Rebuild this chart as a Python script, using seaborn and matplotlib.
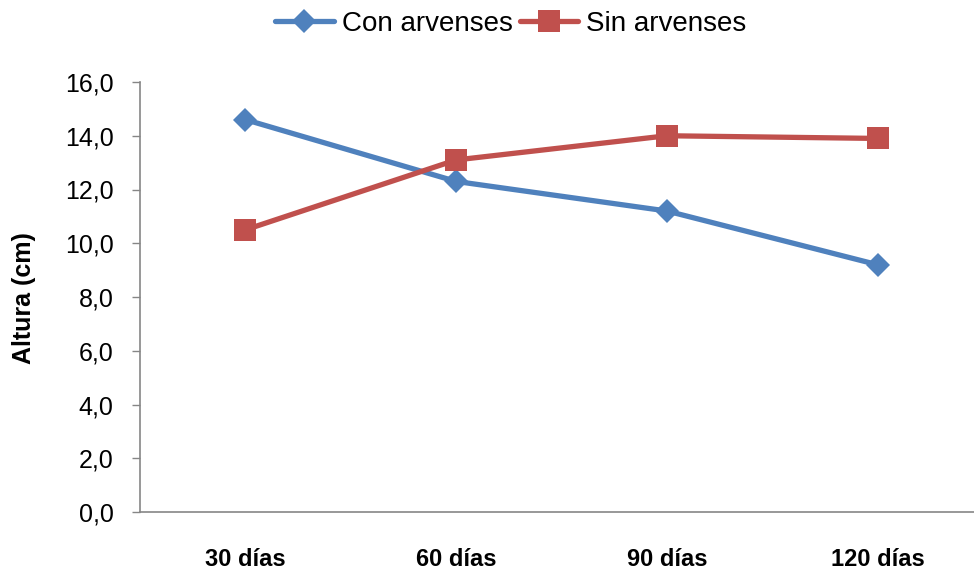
import matplotlib
matplotlib.use("Agg")
import matplotlib.pyplot as plt
import seaborn as sns
import pandas as pd

categorias = ["30 días", "60 días", "90 días", "120 días"]
con_arvenses = [14.6, 12.3, 11.2, 9.2]
sin_arvenses = [10.5, 13.1, 14.0, 13.9]
series = ["Con arvenses", "Sin arvenses"]
y_ticks = [0, 2, 4, 6, 8, 10, 12, 14, 16]

df = pd.DataFrame({
    "Tiempo": categorias * 2,
    "x": list(range(len(categorias))) * 2,
    "Altura": con_arvenses + sin_arvenses,
    "Serie": [series[0]] * 4 + [series[1]] * 4,
})

sns.set_style("white")
plt.rcParams["font.family"] = ["Liberation Sans", "DejaVu Sans"]
plt.rcParams["text.color"] = "black"

fig = plt.figure(figsize=(9.74, 5.72), dpi=100)
ax = fig.add_axes([140 / 974, 1 - 512 / 572, 843 / 974, 430 / 572])

colors = {"Con arvenses": "#4F81BD", "Sin arvenses": "#C0504D"}
sns.lineplot(data=df, x="x", y="Altura", hue="Serie", style="Serie",
             markers={"Con arvenses": "D", "Sin arvenses": "s"},
             dashes=False, palette=colors,
             linewidth=3.8, markersize=12, markeredgewidth=0, ax=ax, legend=False)

lines = ax.get_lines()
lines[0].set_markersize(12.5)
lines[1].set_markersize(16)

ax.set_xlim(-0.5, 3.5)
ax.set_ylim(0, 16)
ax.set_yticks(y_ticks)
ax.set_yticklabels([f"{v:.1f}".replace(".", ",") for v in y_ticks], fontsize=18, color="black")
ax.set_xticks(range(len(categorias)))
ax.set_xticklabels(categorias, fontsize=17, fontweight="bold", color="black")
ax.tick_params(axis="x", length=0, pad=26)
ax.tick_params(axis="y", length=6, width=1, color="#868686", direction="out", pad=13, left=True)
ax.set_xlabel("")
ax.set_ylabel("Altura (cm)", fontsize=18, fontweight="bold", color="black")
ax.yaxis.set_label_coords(-(140 - 36) / 843, (512 - 298) / 430)

for s in ["top", "right"]:
    ax.spines[s].set_visible(False)
for s in ["left", "bottom"]:
    ax.spines[s].set_color("#868686")
    ax.spines[s].set_linewidth(1.2)

fig.legend(lines[:2], series, loc="center", bbox_to_anchor=(511 / 974, 1 - 24 / 572),
           bbox_transform=fig.transFigure, ncol=2, frameon=False,
           fontsize=20, handlelength=2.1, handletextpad=0.3, columnspacing=0.25,
           borderpad=0, borderaxespad=0)

fig.savefig("out.png", dpi=100)
